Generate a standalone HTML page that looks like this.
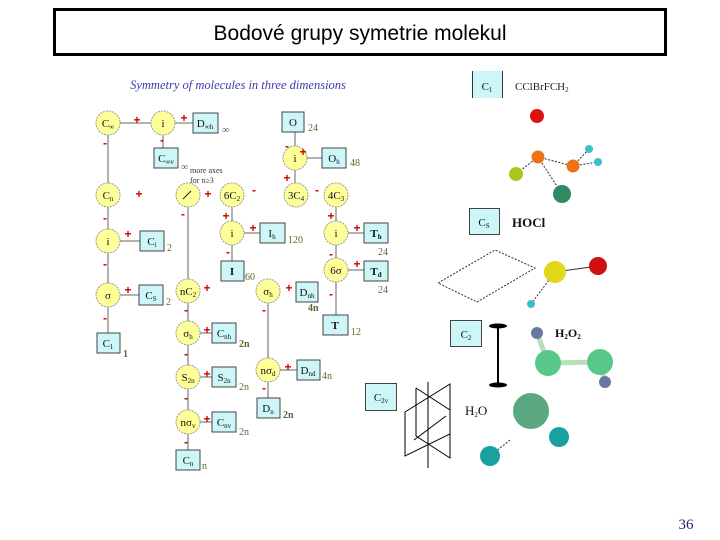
<!DOCTYPE html>
<html><head><meta charset="utf-8"><style>
html,body{margin:0;padding:0;background:#fff;width:720px;height:540px;overflow:hidden}
svg{display:block}
.c{fill:#ffff99;stroke:#999;stroke-width:1;stroke-dasharray:2 1}
.b{fill:#ccf6f8;stroke:#444;stroke-width:1}
.t{font-family:"Liberation Serif",serif;font-size:11px;text-anchor:middle;fill:#111}
.n{font-family:"Liberation Serif",serif;font-size:10px;fill:#556b2f}
.p{font-family:"Liberation Sans",sans-serif;font-size:12px;font-weight:bold;fill:#c00;text-anchor:middle}
.l{stroke:#666;stroke-width:1}
.s{font-size:7px}
</style></head><body>
<svg width="720" height="540" viewBox="0 0 720 540" xmlns="http://www.w3.org/2000/svg">
<rect x="54.5" y="9.5" width="611" height="45" fill="#fff" stroke="#000" stroke-width="3"/>
<text x="360" y="40" text-anchor="middle" font-family="Liberation Sans,sans-serif" font-size="21" fill="#000">Bodové grupy symetrie molekul</text>
<text x="238" y="89" text-anchor="middle" font-family="Liberation Serif,serif" font-style="italic" font-size="12.5" fill="#3b3bb0">Symmetry of molecules in three dimensions</text>
<g class="l">
<line x1="108" y1="123" x2="108" y2="333"/><line x1="108" y1="123" x2="193" y2="123"/>
<line x1="163" y1="123" x2="163" y2="148"/><line x1="108" y1="241" x2="140" y2="241"/>
<line x1="108" y1="295" x2="139" y2="295"/>
<line x1="188" y1="195" x2="188" y2="450"/>
<line x1="188" y1="333" x2="212" y2="333"/><line x1="188" y1="377" x2="212" y2="377"/><line x1="188" y1="422" x2="212" y2="422"/>
<line x1="268" y1="291" x2="268" y2="398"/><line x1="268" y1="370" x2="297" y2="370"/>
<line x1="232" y1="195" x2="232" y2="261"/><line x1="232" y1="233" x2="260" y2="233"/>
<line x1="295" y1="122" x2="295" y2="195"/><line x1="295" y1="158" x2="322" y2="158"/>
<line x1="336" y1="195" x2="336" y2="315"/><line x1="336" y1="233" x2="364" y2="233"/><line x1="336" y1="270" x2="364" y2="270"/>
</g>
<g>
<circle class="c" cx="108" cy="123" r="12"/><circle class="c" cx="163" cy="123" r="12"/>
<circle class="c" cx="108" cy="195" r="12"/><circle class="c" cx="188" cy="195" r="12"/>
<circle class="c" cx="232" cy="195" r="12"/><circle class="c" cx="296" cy="195" r="12"/><circle class="c" cx="336" cy="195" r="12"/>
<circle class="c" cx="295" cy="158" r="12"/>
<circle class="c" cx="108" cy="241" r="12"/><circle class="c" cx="232" cy="233" r="12"/><circle class="c" cx="336" cy="233" r="12"/>
<circle class="c" cx="336" cy="270" r="12"/>
<circle class="c" cx="108" cy="295" r="12"/><circle class="c" cx="188" cy="291" r="12"/><circle class="c" cx="268" cy="291" r="12"/>
<circle class="c" cx="188" cy="333" r="12"/><circle class="c" cx="188" cy="377" r="12"/><circle class="c" cx="268" cy="370" r="12"/>
<circle class="c" cx="188" cy="422" r="12"/>
</g>
<line x1="183" y1="199" x2="191" y2="191" stroke="#222"/>
<g class="t">
<text x="108" y="127">C<tspan class="s" dy="2">∞</tspan></text><text x="163" y="127">i</text><text x="108" y="199">C<tspan class="s" dy="2">n</tspan></text>
<text x="232" y="199">6C<tspan class="s" dy="2">2</tspan></text><text x="296" y="199">3C<tspan class="s" dy="2">4</tspan></text><text x="336" y="199">4C<tspan class="s" dy="2">3</tspan></text>
<text x="295" y="162">i</text><text x="108" y="245">i</text><text x="232" y="237">i</text><text x="336" y="237">i</text>
<text x="336" y="274">6σ</text><text x="108" y="299">σ</text><text x="188" y="295">nC<tspan class="s" dy="2">2</tspan></text><text x="268" y="295">σ<tspan class="s" dy="2">h</tspan></text>
<text x="188" y="337">σ<tspan class="s" dy="2">h</tspan></text><text x="188" y="381">S<tspan class="s" dy="2">2n</tspan></text><text x="268" y="374">nσ<tspan class="s" dy="2">d</tspan></text><text x="188" y="426">nσ<tspan class="s" dy="2">v</tspan></text>
</g>
<g>
<rect class="b" x="193" y="113" width="25" height="20"/><rect class="b" x="154" y="148" width="24" height="20"/>
<rect class="b" x="282" y="112" width="22" height="20"/><rect class="b" x="322" y="148" width="24" height="20"/>
<rect class="b" x="140" y="231" width="24" height="20"/><rect class="b" x="260" y="223" width="25" height="20"/>
<rect class="b" x="364" y="223" width="24" height="20"/><rect class="b" x="221" y="261" width="23" height="20"/>
<rect class="b" x="364" y="261" width="24" height="20"/><rect class="b" x="139" y="285" width="24" height="20"/>
<rect class="b" x="296" y="282" width="22" height="20"/><rect class="b" x="323" y="315" width="25" height="20"/>
<rect class="b" x="97" y="333" width="23" height="20"/><rect class="b" x="212" y="323" width="24" height="20"/>
<rect class="b" x="297" y="360" width="23" height="20"/><rect class="b" x="212" y="367" width="24" height="20"/>
<rect class="b" x="257" y="398" width="23" height="20"/><rect class="b" x="212" y="412" width="24" height="20"/>
<rect class="b" x="176" y="450" width="24" height="20"/>
</g>
<g class="t">
<text x="205" y="127">D<tspan class="s" dy="2">∞h</tspan></text><text x="166" y="162">C<tspan class="s" dy="2">∞v</tspan></text><text x="293" y="126">O</text><text x="334" y="162">O<tspan class="s" dy="2">h</tspan></text>
<text x="152" y="245">C<tspan class="s" dy="2">i</tspan></text><text x="272" y="237">I<tspan class="s" dy="2">h</tspan></text><text x="376" y="237" font-weight="bold">T<tspan class="s" dy="2">h</tspan></text><text x="232" y="275" font-weight="bold">I</text>
<text x="376" y="275" font-weight="bold">T<tspan class="s" dy="2">d</tspan></text><text x="151" y="299">C<tspan class="s" dy="2">S</tspan></text><text x="307" y="296">D<tspan class="s" dy="2">nh</tspan></text><text x="335" y="329" font-weight="bold">T</text>
<text x="108" y="347">C<tspan class="s" dy="2">1</tspan></text><text x="224" y="337">C<tspan class="s" dy="2">nh</tspan></text><text x="308" y="374">D<tspan class="s" dy="2">nd</tspan></text><text x="224" y="381">S<tspan class="s" dy="2">2n</tspan></text>
<text x="268" y="412">D<tspan class="s" dy="2">n</tspan></text><text x="224" y="426">C<tspan class="s" dy="2">nv</tspan></text><text x="188" y="464">C<tspan class="s" dy="2">n</tspan></text>
</g>
<g class="n">
<text x="222" y="133">∞</text><text x="181" y="170">∞</text>
<text x="190" y="173" font-size="8" fill="#333">more axes</text><text x="190" y="183" font-size="8" fill="#333">for n≥3</text>
<text x="308" y="131">24</text><text x="350" y="166">48</text><text x="167" y="251">2</text><text x="288" y="243">120</text>
<text x="378" y="255">24</text><text x="245" y="280">60</text><text x="378" y="293">24</text><text x="166" y="305">2</text>
<text x="308" y="311" font-weight="bold">4n</text><text x="351" y="335">12</text><text x="123" y="357" font-weight="bold">1</text>
<text x="239" y="347" font-weight="bold">2n</text><text x="322" y="379">4n</text><text x="239" y="390">2n</text>
<text x="283" y="418" font-weight="bold">2n</text><text x="239" y="435">2n</text><text x="202" y="469">n</text>
</g>
<g class="p">
<text x="137" y="124">+</text><text x="184" y="122">+</text><text x="162" y="144">-</text><text x="105" y="147">-</text>
<text x="139" y="198">+</text><text x="208" y="198">+</text><text x="254" y="194">-</text><text x="317" y="194">-</text>
<text x="105" y="222">-</text><text x="128" y="238">+</text><text x="105" y="268">-</text><text x="128" y="294">+</text>
<text x="105" y="322">-</text><text x="183" y="218">-</text><text x="226" y="220">+</text><text x="253" y="232">+</text>
<text x="228" y="256">-</text><text x="287" y="150">-</text><text x="303" y="156">+</text><text x="287" y="182">+</text>
<text x="331" y="220">+</text><text x="357" y="232">+</text><text x="331" y="258">-</text><text x="357" y="268">+</text>
<text x="331" y="298">-</text><text x="207" y="292">+</text><text x="289" y="292">+</text><text x="264" y="314">-</text>
<text x="186" y="314">-</text><text x="207" y="334">+</text><text x="186" y="358">-</text><text x="207" y="378">+</text>
<text x="186" y="402">-</text><text x="207" y="423">+</text><text x="186" y="446">-</text><text x="288" y="371">+</text><text x="264" y="392">-</text>
</g>
<rect x="472" y="71" width="30" height="27" fill="#ccf6f8"/>
<line x1="472.5" y1="71" x2="472.5" y2="98" stroke="#333"/><line x1="502.5" y1="71" x2="502.5" y2="98" stroke="#333"/>
<text x="487" y="90" class="t" font-size="12">C<tspan class="s" dy="2">1</tspan></text>
<text x="515" y="90" font-family="Liberation Serif,serif" font-size="11" fill="#222">CClBrFCH<tspan class="s" dy="2">2</tspan></text>
<g stroke="#333" stroke-dasharray="2 1.5" fill="none">
<line x1="538" y1="157" x2="516" y2="174"/><line x1="538" y1="157" x2="573" y2="166"/><line x1="538" y1="157" x2="562" y2="194"/>
<line x1="573" y1="166" x2="589" y2="149"/><line x1="573" y1="166" x2="598" y2="162"/>
<line x1="555" y1="272" x2="531" y2="304"/>
<polygon points="438,283 495,250 535,268 477,302"/>
<line x1="510" y1="440" x2="490" y2="456"/>
</g>
<circle cx="537" cy="116" r="7" fill="#e01010"/>
<circle cx="538" cy="157" r="6.5" fill="#f07018"/><circle cx="573" cy="166" r="6.5" fill="#f07018"/>
<circle cx="589" cy="149" r="4" fill="#3cc0c8"/><circle cx="598" cy="162" r="4" fill="#3cc0c8"/>
<circle cx="516" cy="174" r="7" fill="#a8c820"/><circle cx="562" cy="194" r="9" fill="#2e8a60"/>
<rect x="469.5" y="208.5" width="30" height="26" class="b"/><text x="484" y="226" class="t" font-size="12">C<tspan class="s" dy="2">S</tspan></text>
<text x="512" y="227" font-family="Liberation Serif,serif" font-weight="bold" font-size="13" fill="#111">HOCl</text>
<line x1="555" y1="272" x2="598" y2="266" stroke="#333"/>
<circle cx="555" cy="272" r="11" fill="#e0d818"/><circle cx="598" cy="266" r="9" fill="#d01010"/><circle cx="531" cy="304" r="4" fill="#3cc0c8"/>
<rect x="450.5" y="320.5" width="31" height="26" class="b"/><text x="466" y="338" class="t" font-size="12">C<tspan class="s" dy="2">2</tspan></text>
<line x1="498" y1="326" x2="498" y2="385" stroke="#000" stroke-width="2"/>
<ellipse cx="498" cy="326" rx="9" ry="2.5" fill="#000"/><ellipse cx="498" cy="385" rx="9" ry="2.5" fill="#000"/>
<text x="555" y="337" font-family="Liberation Serif,serif" font-weight="bold" font-size="12" fill="#111">H<tspan class="s" dy="2">2</tspan><tspan dy="-2">O</tspan><tspan class="s" dy="2">2</tspan></text>
<g stroke="#b8e0b8" stroke-width="5"><line x1="537" y1="333" x2="548" y2="363"/><line x1="548" y1="363" x2="600" y2="362"/><line x1="600" y1="362" x2="605" y2="382"/></g>
<circle cx="537" cy="333" r="6" fill="#6878a0"/><circle cx="548" cy="363" r="13" fill="#58c888"/><circle cx="600" cy="362" r="13" fill="#58c888"/><circle cx="605" cy="382" r="6" fill="#6878a0"/>
<rect x="365.5" y="383.5" width="31" height="27" class="b"/><text x="381" y="401" class="t" font-size="12">C<tspan class="s" dy="2">2v</tspan></text>
<g stroke="#000" fill="none" stroke-width="1">
<line x1="428" y1="382" x2="428" y2="468"/>
<polyline points="416,388 416,436 450,458 450,410 416,388"/>
<polyline points="405,412 405,456 450,434 450,384 405,412"/>
<line x1="414" y1="440" x2="446" y2="416"/>
</g>
<text x="465" y="415" font-family="Liberation Serif,serif" font-size="13" fill="#111">H<tspan class="s" dy="2">2</tspan><tspan dy="-2">O</tspan></text>
<circle cx="531" cy="411" r="18" fill="#5aa880"/><circle cx="559" cy="437" r="10" fill="#1aa0a0"/><circle cx="490" cy="456" r="10" fill="#1aa0a0"/>
<text x="686" y="529" text-anchor="middle" font-family="Liberation Serif,serif" font-size="15" fill="#1a2a6a">36</text>
</svg>
</body></html>
